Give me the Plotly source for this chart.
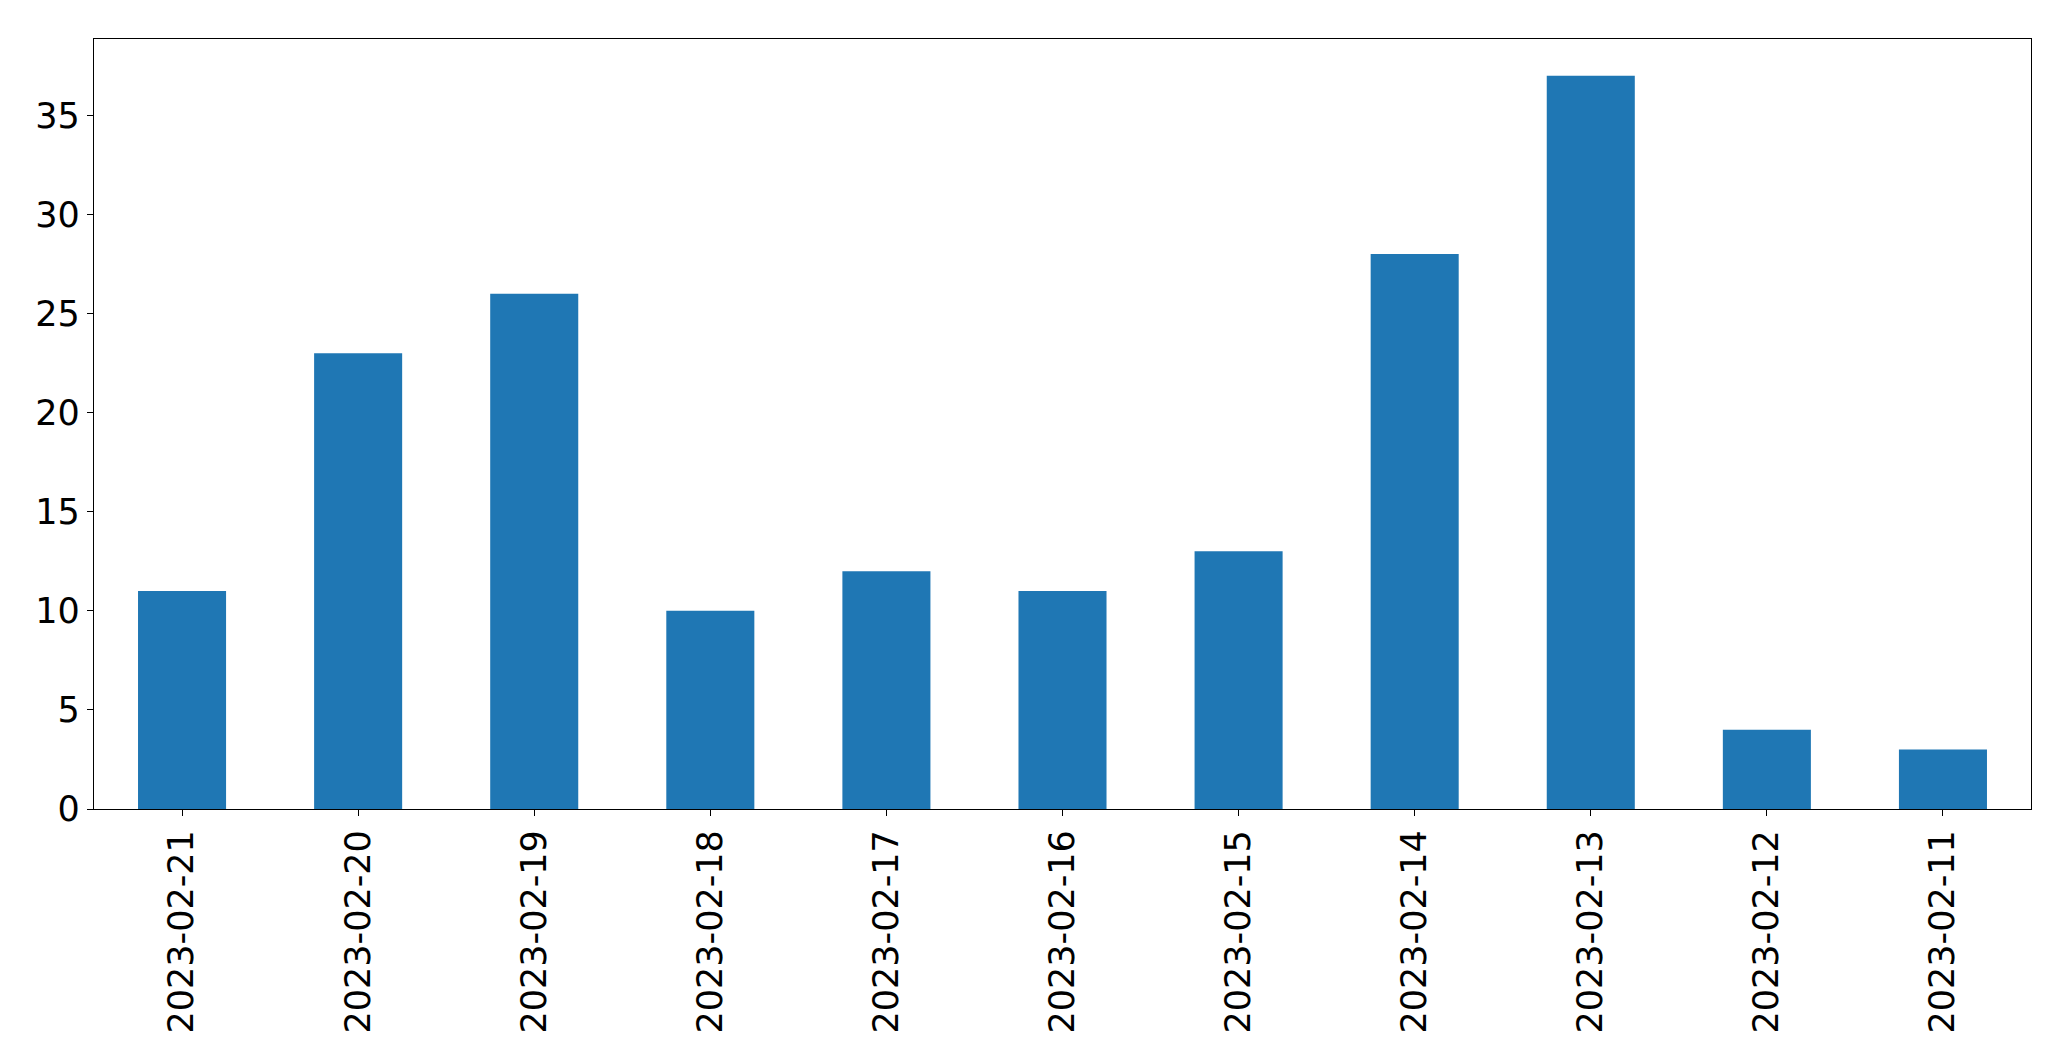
import plotly.graph_objects as go

dates = ["2023-02-21", "2023-02-20", "2023-02-19", "2023-02-18", "2023-02-17",
         "2023-02-16", "2023-02-15", "2023-02-14", "2023-02-13", "2023-02-12", "2023-02-11"]
counts = [11, 23, 26, 10, 12, 11, 13, 28, 37, 4, 3]
y_ticks = [0, 5, 10, 15, 20, 25, 30, 35]

fig = go.Figure(go.Bar(x=dates, y=counts, marker=dict(color="#1f77b4", line=dict(width=0)), width=0.5))

# page body has an 8px default margin; compensate so the plot box lands at x 94-2031, y 39-809
fig.update_layout(
    width=2055, height=1045,
    margin=dict(l=86, r=32, t=31, b=244),
    plot_bgcolor="white", paper_bgcolor="white",
    font=dict(family="DejaVu Sans", size=35, color="black"),
    showlegend=False,
)
fig.update_xaxes(
    type="category", range=[-0.5, 10.5], tickangle=-90,
    showline=True, mirror=True, linecolor="black", linewidth=1.3,
    ticks="outside", ticklen=6, tickwidth=1.3, tickcolor="black",
    showgrid=False, zeroline=False,
)
fig.update_yaxes(
    range=[0, 38.85], tickvals=y_ticks,
    showline=True, mirror=True, linecolor="black", linewidth=1.3,
    ticks="outside", ticklen=6, tickwidth=1.3, tickcolor="black",
    showgrid=False, zeroline=False,
)
fig.write_html("out.html")
